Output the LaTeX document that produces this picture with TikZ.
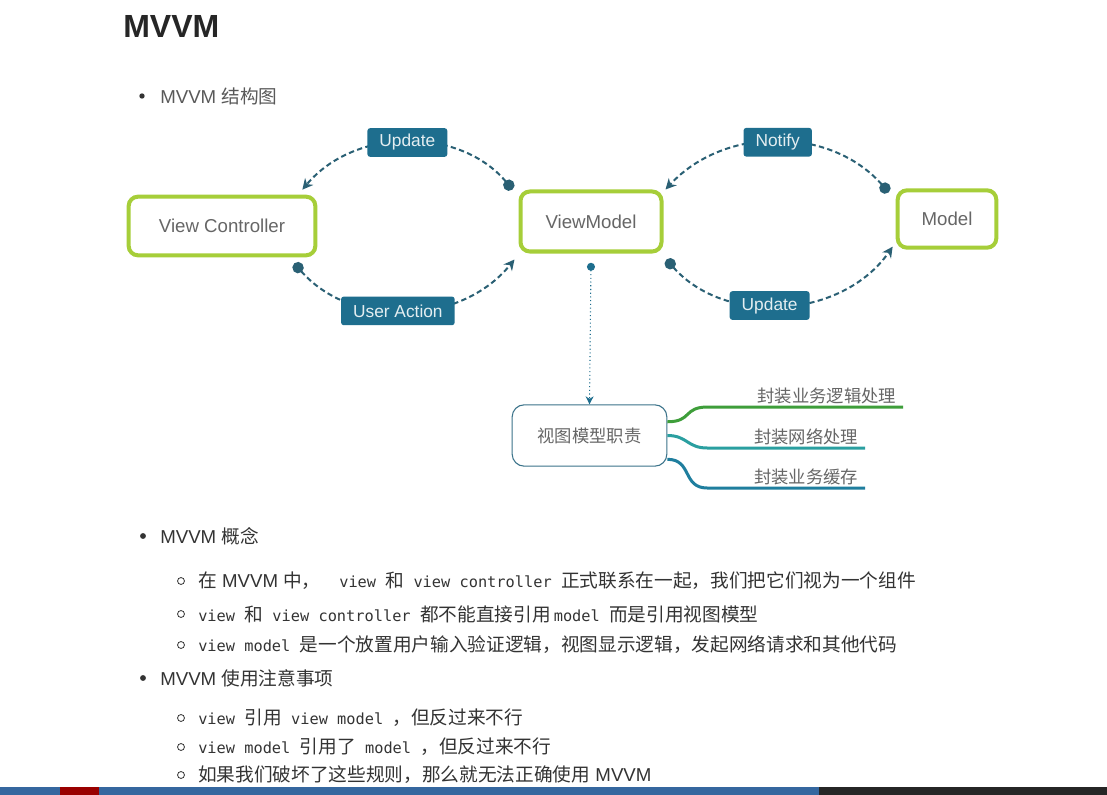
\documentclass[tikz,border=0pt]{standalone}
\usepackage{fontspec}
\setmainfont{Liberation Sans}
\setmonofont[Scale=0.82]{DejaVu Sans Mono}
\newfontfamily\cjk{Noto Sans CJK SC}
\usetikzlibrary{arrows.meta}
\definecolor{limegreen}{HTML}{A6CE39}
\definecolor{tagblue}{HTML}{1E6E8E}
\definecolor{linkteal}{HTML}{2A6074}
\definecolor{inkgray}{HTML}{333333}
\definecolor{boxgray}{HTML}{666666}
\definecolor{mapgreen}{HTML}{3E9E3A}
\definecolor{mapteal}{HTML}{2A9FA0}
\definecolor{mapblue}{HTML}{1F7E9E}
\definecolor{barblue}{HTML}{35679F}
\newcommand{\zh}[1]{{\cjk #1}}
\newcommand{\code}[1]{\texttt{#1}}

\begin{document}
\begin{tikzpicture}[x=0.75pt, y=-0.75pt,
  comp/.style={draw=limegreen, line width=3pt, rounded corners=7pt, fill=white, text=boxgray, font=\fontsize{14}{16}\selectfont},
  tag/.style={fill=tagblue, rounded corners=2pt, text=white!88!tagblue, font=\fontsize{13}{15}\selectfont, inner xsep=9pt, minimum height=21.5pt},
  link/.style={draw=linkteal, line width=1.5pt, dash pattern=on 4pt off 2.5pt, {Circle[length=8.5pt,width=8.5pt]}-{Stealth[length=8pt,width=8pt]}},
  probe/.style={draw=tagblue, line width=0.8pt, dotted, {Circle[length=6pt,width=6pt]}-{Stealth[length=6pt,width=6pt]}},
  duty/.style={draw=tagblue!70!gray, line width=0.8pt, rounded corners=9pt, fill=white, text=boxgray, font=\fontsize{13}{15}\selectfont\cjk},
  branch/.style={align=right, inner xsep=5pt, inner ysep=2pt, text=boxgray, font=\fontsize{13}{15}\selectfont\cjk},
  txt/.style={anchor=west, inner sep=0pt, text=inkgray, font=\fontsize{14}{16}\selectfont}
]
\useasboundingbox (0,0) rectangle (1107,795);
\fill[white] (0,0) rectangle (1107,795);

% heading
\node[txt, font=\fontsize{24}{28}\selectfont\bfseries, text=black!85] (title) at (123,26) {MVVM};
\fill[inkgray] (142,96) circle[radius=2pt];
\node[txt, text=black!65] (sec1) at (160,96) {MVVM \zh{结构图}};

% structure diagram
\node[comp, minimum width=140pt, minimum height=44pt] (vc) at (222,226) {View Controller};
\node[comp, minimum width=105.75pt, minimum height=45pt] (vm) at (591,221.5) {ViewModel};
\node[comp, minimum width=74pt, minimum height=43pt] (md) at (947,219) {Model};

\draw[link] ([shift={(-6,0)}]vm.north west) to[bend right=50] node[tag] (upd1) {Update} ([shift={(-15,-5)}]vc.north east);
\draw[link] ([shift={(-23,6)}]vc.south east) to[bend right=50] node[tag, pos=0.47] (act) {User Action} ([shift={(-4,6)}]vm.south west);
\draw[link] ([shift={(-7,4)}]md.north west) to[bend right=48] node[tag] (ntf) {Notify} ([shift={(2,0)}]vm.north east);
\draw[link] ([shift={(3,6)}]vm.south east) to[bend right=52] node[tag, pos=0.45] (upd2) {Update} ([shift={(-3,-3)}]md.south west);

% view model duties
\node[duty, minimum width=116pt, minimum height=46pt] (duty) at (589.5,435.5) {视图模型职责};
\draw[probe] ([yshift=-7pt]vm.south) -- (duty.north);

\node[branch, text width=136pt, anchor=south east] (b1) at (903,407) {封装业务逻辑处理};
\node[branch, text width=108pt, anchor=south east] (b2) at (865,448) {封装网络处理};
\node[branch, text width=108pt, anchor=south east] (b3) at (865,488) {封装业务缓存};
\draw[mapgreen, line width=2.25pt] (duty.10) .. controls +(25,0) and +(-25,0) .. (b1.south west) -- (b1.south east);
\draw[mapteal, line width=2.25pt] (duty.east) .. controls +(20,0) and +(-20,0) .. (b2.south west) -- (b2.south east);
\draw[mapblue, line width=2.25pt] (duty.-17) .. controls +(25,0) and +(-25,0) .. (b3.south west) -- (b3.south east);

% notes
\fill[inkgray] (143,536) circle[radius=2.2pt];
\node[txt] (sec2) at (160,536) {MVVM \zh{概念}};
\foreach \y in {581,614,645,718,747,775}
  \draw[inkgray, line width=0.6pt] (181,\y) circle[radius=2.6pt];
\node[txt] (n1) at (198,581) {\zh{在} MVVM \zh{中，}\quad\code{view}\enspace\zh{和}\enspace\code{view controller}\enspace\zh{正式联系在一起，我们把它们视为一个组件}};
\node[txt] (n2) at (198,614) {\code{view}\enspace\zh{和}\enspace\code{view controller}\enspace\zh{都不能直接引用}\,\code{model}\enspace\zh{而是引用视图模型}};
\node[txt] (n3) at (198,645) {\code{view model}\enspace\zh{是一个放置用户输入验证逻辑，视图显示逻辑，发起网络请求和其他代码}};
\fill[inkgray] (143,678) circle[radius=2.2pt];
\node[txt] (sec3) at (160,678) {MVVM \zh{使用注意事项}};
\node[txt] (n4) at (198,718) {\code{view}\enspace\zh{引用}\enspace\code{view model}\enspace\zh{，但反过来不行}};
\node[txt] (n5) at (198,747) {\code{view model}\enspace\zh{引用了}\enspace\code{model}\enspace\zh{，但反过来不行}};
\node[txt] (n6) at (198,775) {\zh{如果我们破坏了这些规则，那么就无法正确使用} MVVM};

% screen bar
\fill[barblue] (0,787) rectangle (1107,795);
\fill[black!85] (819,787) rectangle (1107,795);
\fill[red!60!black] (60,787) rectangle (99,795);
\end{tikzpicture}
\end{document}
